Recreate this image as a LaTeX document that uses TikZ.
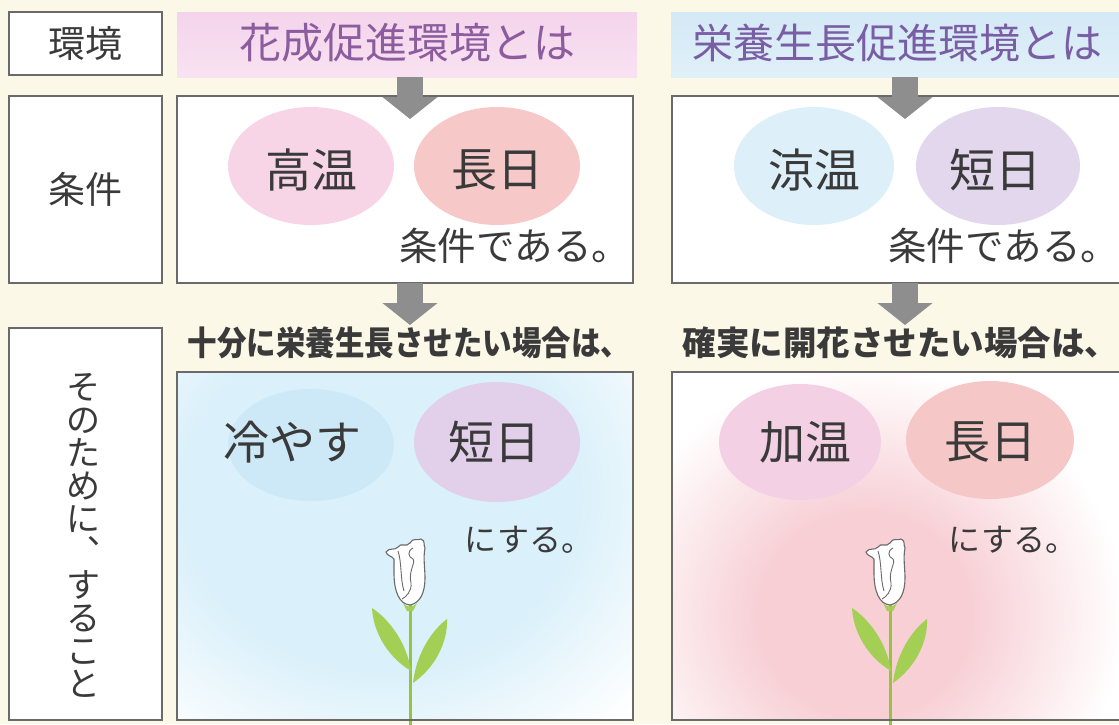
\documentclass[tikz,border=0pt]{standalone}
\usepackage{fontspec}
\usetikzlibrary{arrows.meta,shapes.geometric}
\newfontfamily\jp{Noto Sans CJK JP}

\definecolor{paper}{HTML}{FCF8E7}
\definecolor{frameline}{HTML}{6A6A6A}
\definecolor{ink}{HTML}{3A3A3A}
\definecolor{arrowgray}{HTML}{8E8E8E}
\definecolor{hdrpink}{HTML}{F4D4EC}
\definecolor{hdrpinklow}{HTML}{F8E2F1}
\definecolor{hdrblue}{HTML}{D3E9F6}
\definecolor{hdrbluelow}{HTML}{E0F0F8}
\definecolor{purpleL}{HTML}{8C5C9E}
\definecolor{purpleR}{HTML}{7A5EA5}
\definecolor{blobpink}{HTML}{F7D5E7}
\definecolor{blobsalmon}{HTML}{F6C8C8}
\definecolor{blobblue}{HTML}{DDEFF9}
\definecolor{bloblav}{HTML}{E3D7ED}
\definecolor{blobblue2}{HTML}{CDE8F7}
\definecolor{bloblav2}{HTML}{E2D0EA}
\definecolor{blobpink2}{HTML}{F4D0E4}
\definecolor{blobsalmon2}{HTML}{F6C7C7}
\definecolor{cloudblue}{HTML}{DAF0FA}
\definecolor{cloudpink}{HTML}{F7CFD5}
\definecolor{stemgreen}{HTML}{96C43E}
\definecolor{leafgreen}{HTML}{A3CF55}
\definecolor{budline}{HTML}{6A6A6A}

\pgfdeclareradialshading{bluecloud}{\pgfpoint{0bp}{0bp}}{%
  color(0bp)=(cloudblue); color(14bp)=(cloudblue); color(25bp)=(white); color(50bp)=(white)}
\pgfdeclareradialshading{pinkcloud}{\pgfpoint{0bp}{0bp}}{%
  color(0bp)=(cloudpink); color(10bp)=(cloudpink); color(25bp)=(white); color(50bp)=(white)}

\tikzset{
  frame/.style={draw=frameline, line width=1.4pt, fill=white, rectangle},
  band/.style={rectangle, draw=none},
  blob/.style={ellipse, draw=none},
  word/.style={font=\jp\fontsize{46}{46}\selectfont, text=ink},
  tail/.style={font=\jp\fontsize{38.5}{38.5}\selectfont, text=ink},
  tag/.style={font=\jp\fontsize{37}{37}\selectfont, text=ink},
  caption/.style={font=\jp\bfseries\fontsize{33.5}{33.5}\selectfont, text=ink},
  bigarrow/.style={draw=arrowgray, line width=26pt,
    -{Triangle[width=54pt,length=22pt]}},
  flower/.pic={
    % stem and leaves
    \draw[stemgreen, line width=3pt] (0,0) -- (0,125);
    \fill[leafgreen] (1,68) .. controls (-24,53) and (-37,27) .. (-38,5)
      .. controls (-21,16) and (-3,40) .. cycle;
    \fill[leafgreen] (3,80) .. controls (26,64) and (38,38) .. (37,16)
      .. controls (21,28) and (6,52) .. cycle;
    % bud
    \filldraw[fill=white, draw=budline, line width=1.1pt]
      (0,2) .. controls (-11,1) and (-16,-12) .. (-16,-30)
      -- (-16,-44)
      .. controls (-18,-47) and (-23,-47) .. (-24,-51)
      .. controls (-21,-56) and (-15,-52) .. (-12,-56)
      .. controls (-9,-61) and (-4,-55) .. (0,-60)
      .. controls (3,-66) and (8,-62) .. (11,-64)
      .. controls (16,-62) and (13,-58) .. (15,-55)
      .. controls (13,-45) and (15,-35) .. (15,-25)
      .. controls (15,-10) and (10,0) .. (0,2) -- cycle;
    \draw[budline, line width=0.9pt] (-12,-52) .. controls (-8,-40) and (-10,-25) .. (-6,-12);
    \draw[budline, line width=0.9pt] (3,-55) .. controls (-3,-52) and (-2,-46) .. (3,-44)
      .. controls (6,-40) and (-2,-32) .. (1,-20) .. controls (2,-12) and (-4,-6) .. (-8,-4);
    \fill[leafgreen] (-7,0) .. controls (-3,5) and (3,5) .. (7,0) -- (3,8) -- (-3,8) -- cycle;
  }
}

\begin{document}
\begin{tikzpicture}[x=1pt, y=-1pt, every node/.style={inner sep=0pt, outer sep=0pt}]
\useasboundingbox (0,0) rectangle (1119,724);
\fill[paper] (0,0) rectangle (1119,724);
\begin{scope}
\clip (0,0) rectangle (1119,724);

% ---- row 1: environment ----
\node[frame, minimum width=153pt, minimum height=63pt] (envbox) at (85.5,43.5) {};
\node[tag] (envtext) at (envbox) {環境};

\node[band, top color=hdrpink, bottom color=hdrpinklow, minimum width=460pt, minimum height=65pt] (hdrL) at (407,44.5) {};
\node[font=\jp\fontsize{42}{42}\selectfont, text=purpleL] (hdrLtext) at (407,43) {花成促進環境とは};
\node[band, top color=hdrblue, bottom color=hdrbluelow, minimum width=456pt, minimum height=65pt] (hdrR) at (899,44.5) {};
\node[font=\jp\fontsize{41}{41}\selectfont, text=purpleR] (hdrRtext) at (897,43) {栄養生長促進環境とは};

% ---- row 2: conditions ----
\node[frame, minimum width=153pt, minimum height=187pt] (condlabel) at (85.5,189.5) {};
\node[tag] (condtext) at (condlabel) {条件};

\node[frame, minimum width=456pt, minimum height=187pt] (condL) at (405,189.5) {};
\node[blob, fill=blobpink, minimum width=166pt, minimum height=118pt] (cL1) at (311,166) {};
\node[blob, fill=blobsalmon, minimum width=166pt, minimum height=118pt] (cL2) at (497,166) {};
\node[word] (cL1t) at (311,170) {高温};
\node[word] (cL2t) at (497,170) {長日};
\node[tail, anchor=east] (cLtail) at (630,246) {条件である。};

\node[frame, minimum width=456pt, minimum height=187pt] (condR) at (900,189.5) {};
\node[blob, fill=blobblue, minimum width=160pt, minimum height=118pt] (cR1) at (814,166) {};
\node[blob, fill=bloblav, minimum width=164pt, minimum height=118pt] (cR2) at (998,166) {};
\node[word] (cR1t) at (814,170) {涼温};
\node[word] (cR2t) at (995,170) {短日};
\node[tail, anchor=east] (cRtail) at (1119,246) {条件である。};

% ---- row 3: what to do ----
\node[frame, minimum width=153pt, minimum height=392pt] (dolabel) at (85.5,524) {};
\node[font=\jp\fontsize{34}{33}\selectfont, text=ink, align=center] (dotext) at (83,535)
  {そ\\の\\た\\め\\に\\︑\\す\\る\\こ\\と};

\node[caption, xscale=0.88] (capL) at (409,343) {十分に栄養生長させたい場合は、};
\node[caption, anchor=east] (capR) at (1118,343) {確実に開花させたい場合は、};

\node[frame, minimum width=456pt, minimum height=348pt] (doL) at (405,546) {};
\begin{scope}
  \clip (178,373) rectangle (632,719);
  \shade[shading=bluecloud] (380,495) ellipse [x radius=350pt, y radius=310pt];
\end{scope}
\node[blob, fill=blobblue2, minimum width=166pt, minimum height=112pt] (dL1) at (311,445) {};
\node[blob, fill=bloblav2, minimum width=166pt, minimum height=120pt] (dL2) at (497,442) {};
\node[word] (dL1t) at (292,442) {冷やす};
\node[word] (dL2t) at (494,442) {短日};
\node[font=\jp\fontsize{32}{32}\selectfont, text=ink] (dLtail) at (529,540) {にする。};
\pic at (410,603) {flower};

\node[frame, minimum width=456pt, minimum height=348pt] (doR) at (900,546) {};
\begin{scope}
  \clip (673,373) rectangle (1119,719);
  \shade[shading=pinkcloud] (865,615) ellipse [x radius=260pt, y radius=250pt];
\end{scope}
\node[blob, fill=blobpink2, minimum width=162pt, minimum height=116pt] (dR1) at (800,442) {};
\node[blob, fill=blobsalmon2, minimum width=168pt, minimum height=118pt] (dR2) at (990,440) {};
\node[word] (dR1t) at (805,442) {加温};
\node[word] (dR2t) at (990,442) {長日};
\node[font=\jp\fontsize{32}{32}\selectfont, text=ink] (dRtail) at (1013,540) {にする。};
\pic at (890,603) {flower};

% redraw frames of the lower boxes over the soft fills
\draw[frameline, line width=1.4pt] (doL.north west) rectangle (doL.south east);
\draw[frameline, line width=1.4pt] (doR.north west) rectangle (doR.south east);

% ---- arrows ----
\coordinate (aL1) at (hdrL.south -| 410,0);
\coordinate (aR1) at (hdrR.south -| 905,0);
\coordinate (aL2) at (condL.south -| 410,0);
\coordinate (aR2) at (condR.south -| 905,0);
\draw[bigarrow] (aL1) -- ++(0,42);
\draw[bigarrow] (aR1) -- ++(0,42);
\draw[bigarrow] (aL2) -- ++(0,42);
\draw[bigarrow] (aR2) -- ++(0,42);
\end{scope}
\end{tikzpicture}
\end{document}
